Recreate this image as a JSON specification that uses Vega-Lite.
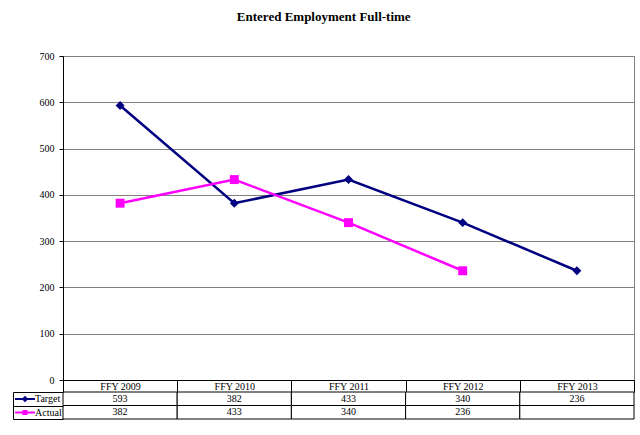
{
  "$schema": "https://vega.github.io/schema/vega-lite/v6.json",
  "background": "white",
  "padding": {"left": 12, "top": 10, "right": 5, "bottom": 5},
  "bounds": "flush",
  "spacing": 12,
  "title": {"text": "Entered Employment Full-time", "font": "Liberation Serif", "fontSize": 13, "fontWeight": "bold", "color": "black", "offset": 27, "anchor": "middle"},
  "data": {"values": [
    {"year": "FFY 2009", "series": "Target", "value": 593},
    {"year": "FFY 2010", "series": "Target", "value": 382},
    {"year": "FFY 2011", "series": "Target", "value": 433},
    {"year": "FFY 2012", "series": "Target", "value": 340},
    {"year": "FFY 2013", "series": "Target", "value": 236},
    {"year": "FFY 2009", "series": "Actual", "value": 382},
    {"year": "FFY 2010", "series": "Actual", "value": 433},
    {"year": "FFY 2011", "series": "Actual", "value": 340},
    {"year": "FFY 2012", "series": "Actual", "value": 236},
    {"year": "FFY 2013", "series": "Actual", "value": null}
  ]},
  "vconcat": [
    {
      "width": 571,
      "height": 324,
      "view": {"stroke": "#808080"},
      "transform": [{"filter": "isValid(datum.value)"}],
      "encoding": {
        "x": {"field": "year", "type": "ordinal", "bandPosition": 0.5,
          "scale": {"type": "band", "paddingInner": 0, "paddingOuter": 0},
          "axis": {"title": null, "orient": "bottom", "tickBand": "extent", "tickSize": 12, "tickColor": "black", "domainColor": "black", "labelPadding": -11, "labelFont": "Liberation Serif", "labelFontSize": 10, "labelColor": "black", "labelAngle": 0, "grid": false}},
        "y": {"field": "value", "type": "quantitative",
          "scale": {"domain": [0, 700], "nice": false, "zero": true},
          "axis": {"title": null, "values": [0, 100, 200, 300, 400, 500, 600, 700], "tickSize": 4, "tickColor": "black", "domainColor": "black", "labelFont": "Liberation Serif", "labelFontSize": 10, "labelColor": "black", "labelPadding": 5, "grid": true, "gridColor": "#808080", "gridOpacity": 1}},
        "color": {"field": "series", "type": "nominal",
          "scale": {"domain": ["Target", "Actual"], "range": ["#000080", "#FF00FF"]},
          "legend": {"orient": "none", "legendX": -43, "legendY": 338, "title": null, "padding": 0,
            "labelFont": "Liberation Serif", "labelFontSize": 10, "labelColor": "black", "labelOffset": 5,
            "rowPadding": 3.5, "symbolSize": 100, "symbolStrokeWidth": 0,
            "encode": {"symbols": {"update": {
              "shape": {"signal": "datum.value === 'Target' ? 'M-2,-0.2H2V0.2H-2Z M0,-0.65L0.65,0L0,0.65L-0.65,0Z' : 'M-2,-0.2H2V0.2H-2Z M-0.5,-0.5H0.5V0.5H-0.5Z'"},
              "fill": {"scale": "color", "field": "value"},
              "stroke": {"value": "transparent"},
              "opacity": {"value": 1},
              "fillOpacity": {"value": 1}
            }}}}}
      },
      "layer": [
        {"mark": {"type": "line", "strokeWidth": 2.5}},
        {"transform": [{"filter": "datum.series === 'Target'"}],
         "mark": {"type": "point", "shape": "diamond", "filled": true, "size": 80, "opacity": 1}},
        {"transform": [{"filter": "datum.series === 'Actual'"}],
         "mark": {"type": "point", "shape": "square", "filled": true, "size": 80, "opacity": 1}}
      ]
    },
    {
      "width": 571,
      "height": 27,
      "view": {"stroke": null},
      "encoding": {
        "x": {"field": "year", "type": "ordinal", "bandPosition": 0.5,
          "scale": {"type": "band", "paddingInner": 0, "paddingOuter": 0}, "axis": null},
        "y": {"field": "series", "type": "nominal", "sort": ["Target", "Actual"], "bandPosition": 0.5,
          "scale": {"type": "band", "paddingInner": 0, "paddingOuter": 0},
          "axis": {"title": null, "labels": false, "offset": 50, "tickSize": -50, "tickBand": "extent", "tickColor": "black", "domainColor": "black", "grid": false}}
      },
      "layer": [
        {"mark": {"type": "rect", "fill": "white", "stroke": "black", "strokeWidth": 1},
         "encoding": {"x": {"field": "year", "type": "ordinal"}, "y": {"field": "series", "type": "nominal", "sort": ["Target", "Actual"]}}},
        {"transform": [{"filter": "isValid(datum.value)"}],
         "mark": {"type": "text", "font": "Liberation Serif", "fontSize": 10, "color": "black"},
         "encoding": {"text": {"field": "value", "type": "quantitative"}}}
      ]
    }
  ]
}
